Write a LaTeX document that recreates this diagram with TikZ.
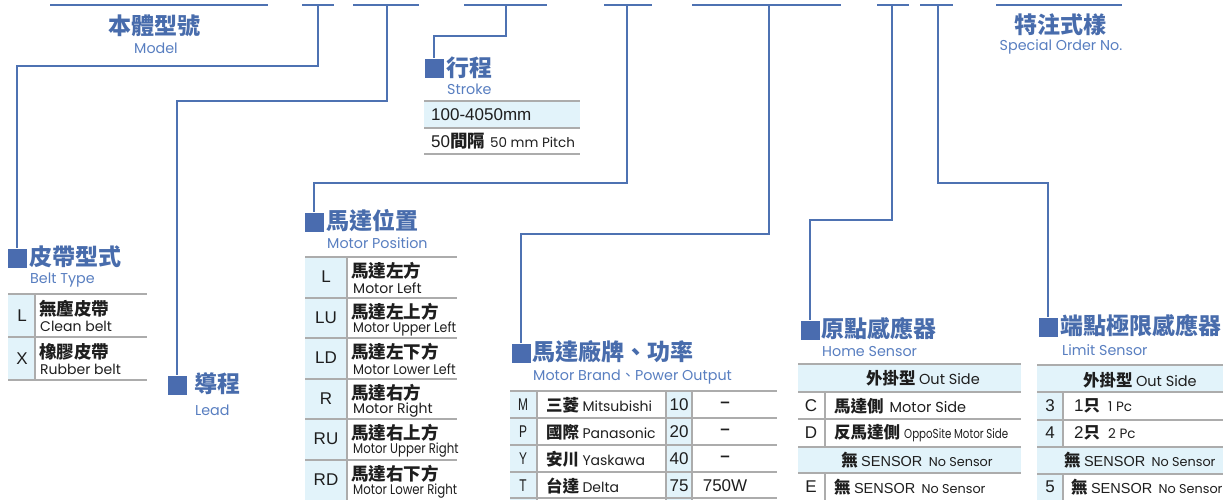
\documentclass[tikz,border=0pt]{standalone}
\usepackage{fontspec}
\newfontfamily\cjk{Noto Sans CJK TC}
\newfontfamily\eng{Poppins}
\newfontfamily\ars{Liberation Sans}
\definecolor{lineblue}{RGB}{78,114,178}
\definecolor{sqblue}{RGB}{74,108,175}
\definecolor{titleblue}{RGB}{72,108,172}
\definecolor{subblue}{RGB}{88,126,192}
\definecolor{gridgray}{RGB}{172,172,172}
\definecolor{cellblue}{RGB}{226,243,250}
\definecolor{ink}{RGB}{30,30,30}
\newcommand{\zhT}{\cjk\bfseries\fontsize{17.5}{18}\selectfont}
\newcommand{\zhB}{\cjk\bfseries\fontsize{16.5}{17}\selectfont}
\newcommand{\enT}{\eng\fontsize{14}{14}\selectfont}
\newcommand{\enS}{\eng\fontsize{14.5}{15}\selectfont}
\newcommand{\enN}{\eng\fontsize{12.8}{13}\selectfont}
\newcommand{\snF}{\ars\fontsize{14.5}{15}\selectfont}
\newcommand{\keyF}{\ars\fontsize{17}{17}\selectfont}
\tikzset{
  conn/.style={draw=lineblue,line width=1.6pt},
  topseg/.style={draw=lineblue,line width=1.8pt},
  sq/.style={rectangle,fill=sqblue,minimum size=19pt,inner sep=0pt},
  ttl/.style={text=titleblue,font=\cjk\bfseries\fontsize{23}{23}\selectfont,inner sep=0pt,anchor=west},
  ttlc/.style={text=titleblue,font=\cjk\bfseries\fontsize{23}{23}\selectfont,inner sep=0pt},
  sub/.style={text=subblue,font=\eng\fontsize{14.3}{15}\selectfont,inner sep=0pt,anchor=west},
  subc/.style={text=subblue,font=\eng\fontsize{14.3}{15}\selectfont,inner sep=0pt},
  grid/.style={draw=gridgray,line width=1.8pt},
  cell/.style={fill=cellblue},
  key/.style={text=ink,font=\keyF,inner sep=0pt},
  zh/.style={text=ink,font=\zhT,inner sep=0pt,anchor=west},
  en/.style={text=ink,font=\enT,inner sep=0pt,anchor=west},
  mix/.style={text=ink,inner sep=0pt,anchor=west},
}
\begin{document}
\begin{tikzpicture}[x=1pt,y=-1pt]
\useasboundingbox (0,0) rectangle (1223,499);
\clip (0,0) rectangle (1223,499);
% top segments
\draw[topseg] (50,5) -- (268,5);
\draw[topseg] (302,5) -- (334,5);
\draw[topseg] (353,5) -- (419,5);
\draw[topseg] (464,5) -- (547,5);
\draw[topseg] (604,5) -- (652,5);
\draw[topseg] (692,5) -- (841,5);
\draw[topseg] (877,5) -- (909,5);
\draw[topseg] (920,5) -- (953,5);
\draw[topseg] (996,5) -- (1122,5);
\coordinate (tBelt) at (318,5);
\coordinate (tLead) at (387,5);
\coordinate (tStroke) at (506,5);
\coordinate (tPos) at (627,5);
\coordinate (tBrand) at (769,5);
\coordinate (tHome) at (892,5);
\coordinate (tLimit) at (938,5);
% headings on top
\node[ttlc] (model) at (154,26) {本體型號};
\node[subc] (modelE) at (156,48) {Model};
\node[ttlc] (special) at (1060,25) {特注式樣};
\node[subc] (specialE) at (1061,47) {Special Order No.};
% squares
\node[sq] (sqBelt) at (17,258) {};
\node[sq] (sqLead) at (177,385) {};
\node[sq] (sqStroke) at (434,68) {};
\node[sq] (sqPos) at (314,222) {};
\node[sq] (sqBrand) at (521,353) {};
\node[sq] (sqHome) at (810,330) {};
\node[sq] (sqLimit) at (1048,327) {};
% connectors
\draw[conn] (tBelt) -- ++(0,61) -| (sqBelt.north);
\draw[conn] (tLead) -- ++(0,96) -| (sqLead.north);
\draw[conn] (tStroke) -- ++(0,31) -| (sqStroke.north);
\draw[conn] (tPos) -- ++(0,178) -| (sqPos.north);
\draw[conn] (tBrand) -- ++(0,229) -| (sqBrand.north);
\draw[conn] (tHome) -- ++(0,215) -| (sqHome.north);
\draw[conn] (tLimit) -- ++(0,178) -| (sqLimit.north);
% titles
\node[ttl] (belt) at (29,257) {皮帶型式};
\node[sub] (beltE) at (30,280) {Belt Type};
\node[ttl] (lead) at (194,384) {導程};
\node[sub] (leadE) at (195,410) {Lead};
\node[ttl] (stroke) at (446,68) {行程};
\node[sub] (strokeE) at (447,89) {Stroke};
\node[ttl] (pos) at (326,221) {馬達位置};
\node[sub] (posE) at (327,243) {Motor Position};
\node[ttl] (brand) at (532,352) {馬達廠牌、功率};
\node[sub] (brandE) at (533,377) {Motor Brand{\cjk 、}Power Output};
\node[ttl] (home) at (821,329) {原點感應器};
\node[sub] (homeE) at (822,352) {Home Sensor};
\node[ttl] (limit) at (1060,326) {端點極限感應器};
\node[sub] (limitE) at (1062,350) {Limit Sensor};
% ---------- belt table
\fill[cell] (8,294) rectangle (35,380);
\draw[grid] (8,294) -- (147,294) (8,337) -- (147,337) (8,380) -- (147,380);
\draw[grid] (35,294) -- (35,380);
\node[key] (bk1) at (22,316) {L};
\node[zh] (bz1) at (39,309) {無塵皮帶};
\node[en] (be1) at (40,326) {Clean belt};
\node[key] (bk2) at (22,359) {X};
\node[zh] (bz2) at (39,352) {橡膠皮帶};
\node[en] (be2) at (40,369) {Rubber belt};
% ---------- stroke table
\fill[cell] (424,101) rectangle (580,128);
\draw[grid] (424,101) -- (580,101) (424,128) -- (580,128) (424,154) -- (580,154);
\node[mix,font=\keyF] (s1) at (431,115) {100-4050mm};
\node[mix] (s2) at (431,141) {{\ars\fontsize{17}{17}\selectfont 50}{\zhT 間隔}\hspace{5pt}{\eng\fontsize{13.5}{14}\selectfont 50 mm Pitch}};
% ---------- motor position table
\fill[cell] (305,257) rectangle (347,500);
\foreach \yy in {257,298,338,379,419,460} {\draw[grid] (305,\yy) -- (457,\yy);}
\draw[grid] (347,257) -- (347,500);
\foreach \t/\k/\z/\e/\f [count=\i] in {257/L/馬達左方/Motor Left/1,298/LU/馬達左上方/Motor Upper Left/0.9,338/LD/馬達左下方/Motor Lower Left/0.91,379/R/馬達右方/Motor Right/1,419/RU/馬達右上方/Motor Upper Right/0.84,460/RD/馬達右下方/Motor Lower Right/0.84}{
  \node[key] (pk\i) at (326,\t+20) {\k};
  \node[zh] (pz\i) at (351,\t+14) {\z};
  \node[en] (pe\i) at (353,\t+31) {\scalebox{\f}[1]{\e}};
}
% ---------- brand table
\fill[cell] (510,391) rectangle (537,500);
\fill[cell] (666,391) rectangle (692,500);
\foreach \yy in {391,418,445,472,498} {\draw[grid] (510,\yy) -- (777,\yy);}
\draw[grid] (537,391) -- (537,500) (666,391) -- (666,500) (692,391) -- (692,500);
\foreach \t/\k/\z/\e/\n/\w [count=\i] in {391/M/三菱/Mitsubishi/10/{\bfseries –},418/P/國際/Panasonic/20/{\bfseries –},445/Y/安川/Yaskawa/40/{\bfseries –},472/T/台達/Delta/75/750W}{
  \node[key] (mk\i) at (523,\t+14) {\scalebox{0.7}[1]{\k}};
  \node[mix] (mz\i) at (546,\t+14) {{\zhB \z} {\eng\fontsize{14}{14}\selectfont \e}};
  \node[key] (mn\i) at (679,\t+14) {\n};
  \node[key] (mw\i) at (725,\t+14) {\w};
}
% ---------- home sensor table
\fill[cell] (798,364) rectangle (1021,392);
\fill[cell] (798,447) rectangle (1021,473);
\foreach \yy in {364,392,419,447,473} {\draw[grid] (798,\yy) -- (1021,\yy);}
\draw[grid] (825,392) -- (825,447) (825,473) -- (825,500);
\node[text=ink,inner sep=0pt] (hh1) at (923,378) {{\zhB 外掛型} {\enS Out Side}};
\node[key] (hk1) at (811,406) {C};
\node[mix] (hz1) at (834,406) {{\zhB 馬達側}\hspace{6pt}{\enS Motor Side}};
\node[key] (hk2) at (811,433) {D};
\node[mix] (hz2) at (834,433) {{\zhB 反馬達側}\hspace{4pt}{\eng\fontsize{13}{13}\selectfont\scalebox{0.79}[1]{OppoSite Motor Side}}};
\node[text=ink,inner sep=0pt] (hh2) at (917,460) {{\zhB 無} {\snF SENSOR}\hspace{3pt} {\enN No Sensor}};
\node[key] (hk3) at (811,487) {E};
\node[mix] (hz3) at (834,487) {{\zhB 無} {\snF SENSOR}\hspace{3pt} {\enN No Sensor}};
% ---------- limit sensor table
\fill[cell] (1037,365) rectangle (1223,392);
\fill[cell] (1037,447) rectangle (1223,474);
\fill[cell] (1037,392) rectangle (1063,447);
\fill[cell] (1037,474) rectangle (1063,500);
\foreach \yy in {365,392,420,447,474} {\draw[grid] (1037,\yy) -- (1223,\yy);}
\draw[grid] (1063,392) -- (1063,447) (1063,474) -- (1063,500);
\node[mix] (lh1) at (1083,380) {{\zhB 外掛型} {\enS Out Side}};
\node[key] (lk1) at (1050,406) {3};
\node[mix] (lz1) at (1074,406) {{\ars\fontsize{17}{17}\selectfont 1}{\zhB 只}\hspace{8pt}{\eng\fontsize{13.5}{14}\selectfont 1 Pc}};
\node[key] (lk2) at (1050,433) {4};
\node[mix] (lz2) at (1074,433) {{\ars\fontsize{17}{17}\selectfont 2}{\zhB 只}\hspace{8pt}{\eng\fontsize{13.5}{14}\selectfont 2 Pc}};
\node[mix] (lh2) at (1064,460) {{\zhB 無} {\snF SENSOR}\hspace{3pt} {\enN No Sensor}};
\node[key] (lk3) at (1050,487) {5};
\node[mix] (lz3) at (1071,487) {{\zhB 無} {\snF SENSOR}\hspace{3pt} {\enN No Sensor}};
\end{tikzpicture}
\end{document}
